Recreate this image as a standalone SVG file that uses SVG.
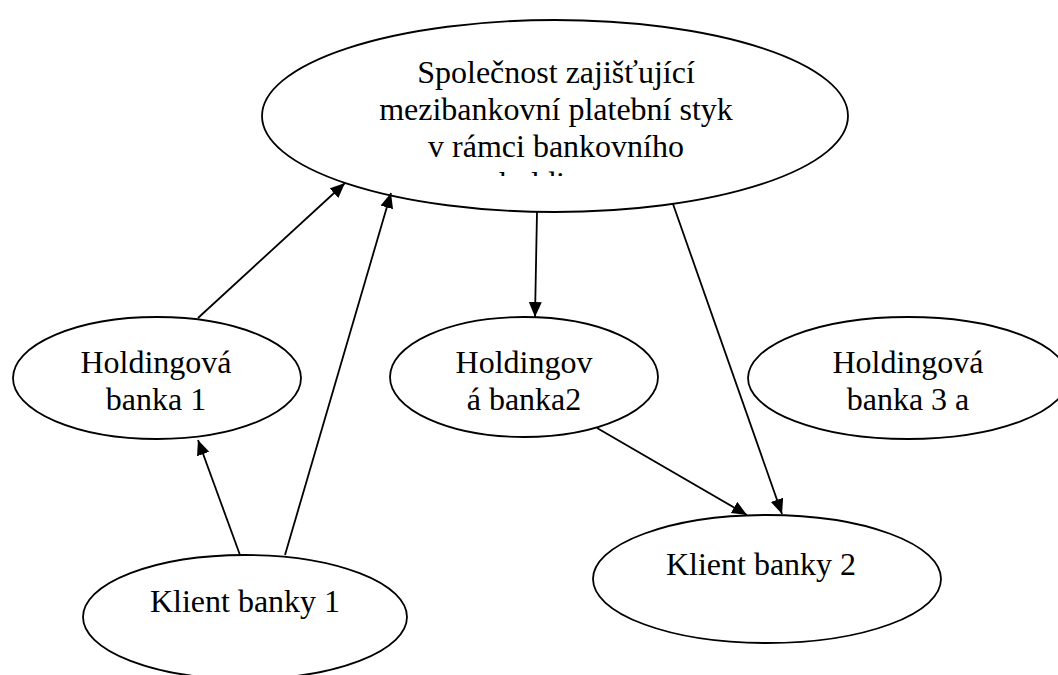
<svg xmlns="http://www.w3.org/2000/svg" width="1058" height="675" viewBox="0 0 1058 675">
  <style>
    .node ellipse { fill: #ffffff; stroke: #000000; stroke-width: 1.8; }
    .node text { font-family: "Liberation Serif", "Times New Roman", serif; font-size: 32px; fill: #000000; text-anchor: middle; }
    .edges line { stroke: #000000; stroke-width: 1.8; marker-end: url(#arrow); }
  </style>
  <defs>
    <marker id="arrow" markerUnits="userSpaceOnUse" markerWidth="16" markerHeight="14" refX="15" refY="6.5" orient="auto">
      <path d="M0,0 L15,6.5 L0,13 z" fill="#000000"/>
    </marker>
    <clipPath id="topclip">
      <rect x="262" y="20" width="590" height="156"/>
    </clipPath>
  </defs>
  <rect width="1058" height="675" fill="#ffffff"/>

  <g id="n-spolecnost" class="node">
    <ellipse cx="555" cy="116" rx="293" ry="96"/>
    <g clip-path="url(#topclip)">
      <text x="556" y="83">Společnost zajišťující</text>
      <text x="556" y="120">mezibankovní platební styk</text>
      <text x="556" y="157">v rámci bankovního</text>
      <text x="556" y="194">holdingu</text>
    </g>
  </g>

  <g id="n-hb1" class="node">
    <ellipse cx="157" cy="378" rx="144" ry="61"/>
    <text x="156" y="373">Holdingová</text>
    <text x="156" y="410">banka 1</text>
  </g>

  <g id="n-hb2" class="node">
    <ellipse cx="524" cy="377" rx="134" ry="60"/>
    <text x="524" y="373">Holdingov</text>
    <text x="524" y="410">á banka2</text>
  </g>

  <g id="n-hb3" class="node">
    <ellipse cx="908" cy="378" rx="160" ry="61"/>
    <text x="908" y="373">Holdingová</text>
    <text x="908" y="410">banka 3 a</text>
  </g>

  <g id="n-kb1" class="node">
    <ellipse cx="245" cy="617" rx="162" ry="62"/>
    <text x="245" y="612">Klient banky 1</text>
  </g>

  <g id="n-kb2" class="node">
    <ellipse cx="767" cy="579" rx="174" ry="64"/>
    <text x="761" y="575">Klient banky 2</text>
  </g>

  <g id="connectors" class="edges">
    <line x1="198" y1="318" x2="345" y2="183"/>
    <line x1="285" y1="555" x2="391" y2="193"/>
    <line x1="240" y1="555" x2="198" y2="440"/>
    <line x1="537" y1="212" x2="535" y2="317"/>
    <line x1="673" y1="204" x2="782" y2="514"/>
    <line x1="597" y1="428" x2="747" y2="515"/>
  </g>
</svg>
